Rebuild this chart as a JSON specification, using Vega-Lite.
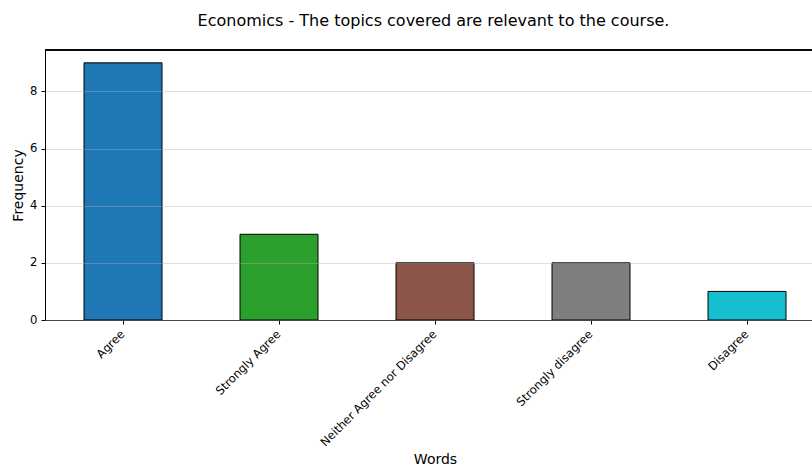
{
  "$schema": "https://vega.github.io/schema/vega-lite/v6.json",
  "width": 767,
  "height": 270,
  "autosize": {"type": "none"},
  "padding": {"left": 45, "top": 50, "right": 0, "bottom": 148},
  "background": "white",
  "config": {
    "view": {"stroke": null},
    "font": "DejaVu Sans"
  },
  "title": {
    "text": "Economics - The topics covered are relevant to the course.",
    "fontSize": 16,
    "font": "DejaVu Sans",
    "fontWeight": "normal",
    "color": "#000000",
    "anchor": "middle",
    "offset": 21,
    "dx": 5
  },
  "data": {
    "values": [
      {"word": "Agree", "count": 9},
      {"word": "Strongly Agree", "count": 3},
      {"word": "Neither Agree nor Disagree", "count": 2},
      {"word": "Strongly disagree", "count": 2},
      {"word": "Disagree", "count": 1}
    ]
  },
  "layer": [
    {
      "mark": {"type": "bar", "stroke": "#000000", "strokeWidth": 1},
      "encoding": {
        "x": {
          "field": "word",
          "type": "nominal",
          "sort": null,
          "scale": {"type": "band", "range": [0, 780], "paddingInner": 0.5, "paddingOuter": 0.25},
          "axis": {
            "title": "Words",
            "titleFontSize": 14,
            "titleFontWeight": "normal",
            "titleColor": "#000000",
            "titleY": 139,
            "titleBaseline": "middle",
            "labelAngle": -45,
            "labelAlign": "right",
            "labelBaseline": "top",
            "labelFontSize": 11.6,
            "labelColor": "#000000",
            "labelPadding": 4,
            "labelOffset": -4,
            "tickSize": 4,
            "tickColor": "#000000",
            "domainColor": "#000000",
            "domainWidth": 1,
            "grid": false
          }
        },
        "y": {
          "field": "count",
          "type": "quantitative",
          "scale": {"domain": [0, 9.45], "nice": false, "zero": true},
          "axis": {
            "title": "Frequency",
            "titleFontSize": 14,
            "titleFontWeight": "normal",
            "titleColor": "#000000",
            "titleX": -27,
            "titleY": 135,
            "titleBaseline": "middle",
            "titleAngle": -90,
            "titleAlign": "center",
            "values": [0, 2, 4, 6, 8],
            "labelFontSize": 11.6,
            "labelColor": "#000000",
            "labelPadding": 4,
            "tickSize": 4,
            "tickColor": "#000000",
            "domainColor": "#000000",
            "domainWidth": 1,
            "grid": true,
            "gridColor": "#b0b0b0",
            "gridOpacity": 0.5,
            "gridWidth": 0.8,
            "zindex": 1
          }
        },
        "color": {
          "field": "word",
          "type": "nominal",
          "scale": {
            "domain": ["Agree", "Strongly Agree", "Neither Agree nor Disagree", "Strongly disagree", "Disagree"],
            "range": ["#1f77b4", "#2ca02c", "#8c564b", "#7f7f7f", "#17becf"]
          },
          "legend": null
        }
      }
    },
    {
      "mark": {"type": "rule", "color": "#000000", "strokeWidth": 1},
      "encoding": {"y": {"datum": 9.45}}
    }
  ]
}
